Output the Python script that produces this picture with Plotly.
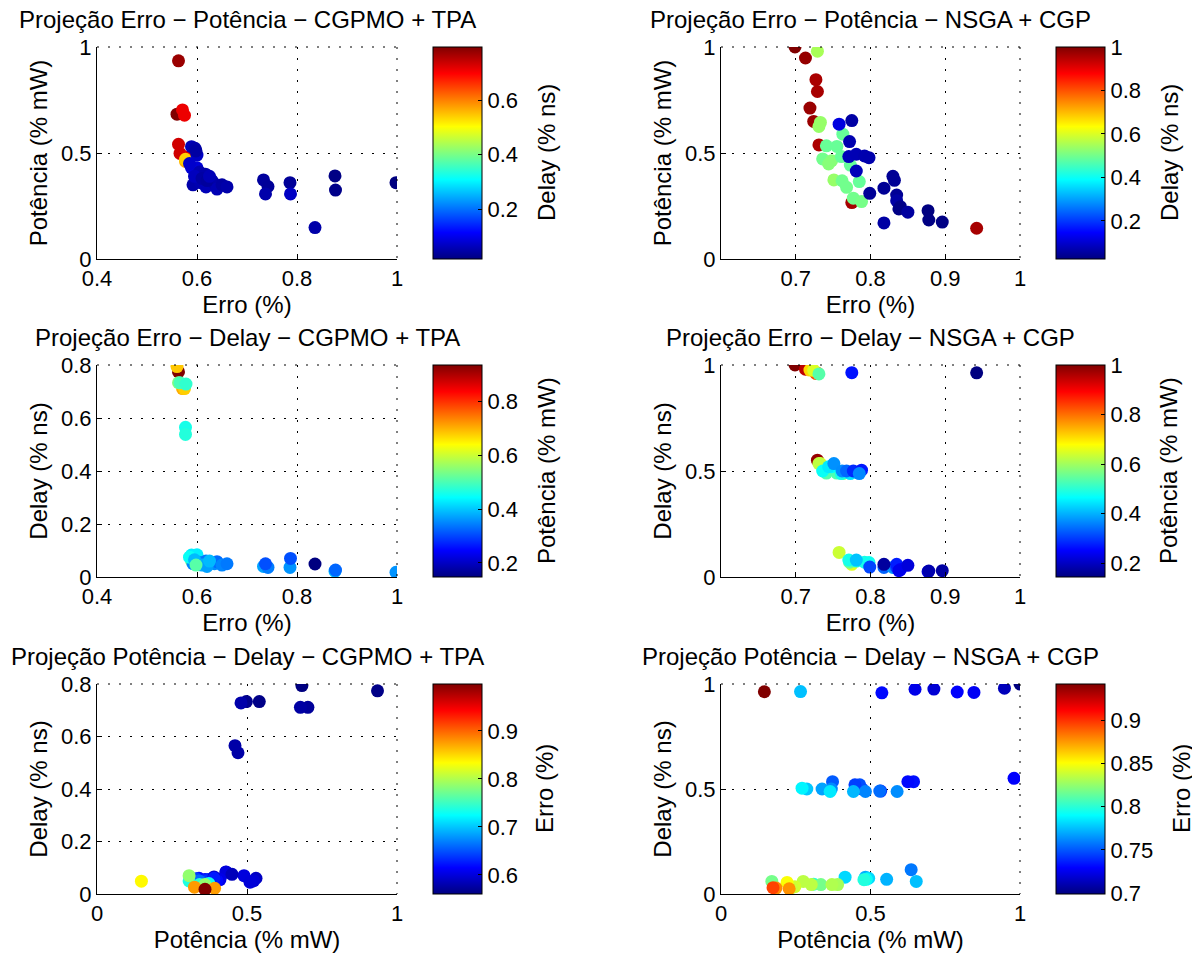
import plotly.graph_objects as go

# ---------------- Data: CGPMO + TPA (erro, potencia, delay) ----------------
cg_erro = [0.563, 0.560, 0.571, 0.575, 0.563, 0.566, 0.578, 0.577, 0.577,
           0.589, 0.596, 0.600, 0.589, 0.592, 0.600, 0.605, 0.607, 0.617, 0.618,
           0.630, 0.635, 0.640, 0.585, 0.595, 0.610, 0.620, 0.598, 0.625, 0.650,
           0.660, 0.733, 0.742, 0.737, 0.786, 0.787, 0.876, 0.877, 0.998, 0.836]
cg_pot = [0.935, 0.683, 0.703, 0.678, 0.541, 0.498, 0.480, 0.460, 0.470,
          0.530, 0.522, 0.490, 0.430, 0.350, 0.430, 0.410, 0.360, 0.400, 0.340,
          0.370, 0.355, 0.330, 0.450, 0.390, 0.380, 0.370, 0.510, 0.390, 0.350,
          0.340, 0.373, 0.342, 0.307, 0.360, 0.307, 0.392, 0.325, 0.360, 0.148]
cg_delay = [0.774, 0.794, 0.711, 0.711, 0.733, 0.733, 0.728, 0.565, 0.538,
            0.060, 0.050, 0.070, 0.083, 0.050, 0.084, 0.055, 0.055, 0.050, 0.060,
            0.055, 0.050, 0.058, 0.075, 0.065, 0.045, 0.040, 0.045, 0.060, 0.045,
            0.050, 0.040, 0.036, 0.050, 0.036, 0.070, 0.022, 0.026, 0.018, 0.049]

# ---------------- Data: NSGA + CGP (erro, potencia, delay) ----------------
ns_erro = [0.699, 0.713, 0.727, 0.729, 0.719, 0.724, 0.731, 0.775, 0.942,
           0.729, 0.733, 0.731, 0.741, 0.755, 0.763, 0.736, 0.748, 0.744, 0.761,
           0.773, 0.751, 0.762, 0.768, 0.777, 0.788, 0.785,
           0.758, 0.775, 0.772, 0.771, 0.781, 0.792, 0.798, 0.781, 0.799, 0.818,
           0.830, 0.832, 0.835, 0.835, 0.840, 0.838, 0.850, 0.818, 0.877, 0.878,
           0.896]
ns_pot = [1.000, 0.948, 0.846, 0.790, 0.712, 0.649, 0.538, 0.266, 0.145,
          0.980, 0.644, 0.625, 0.534, 0.531, 0.589, 0.472, 0.464, 0.448, 0.483,
          0.443, 0.373, 0.369, 0.338, 0.287, 0.271, 0.365,
          0.636, 0.653, 0.554, 0.483, 0.494, 0.486, 0.478, 0.415, 0.310, 0.334,
          0.390, 0.371, 0.302, 0.275, 0.247, 0.236, 0.221, 0.170, 0.228, 0.184,
          0.174]
ns_delay = [1.000, 0.980, 0.960, 0.962, 0.976, 0.975, 0.958, 0.964, 0.963,
            0.551, 0.535, 0.535, 0.490, 0.490, 0.488, 0.500, 0.520, 0.520, 0.488,
            0.488, 0.535, 0.500, 0.500, 0.500, 0.504, 0.488,
            0.116, 0.060, 0.070, 0.080, 0.075, 0.070, 0.068, 0.080, 0.047, 0.045,
            0.045, 0.045, 0.045, 0.060, 0.035, 0.030, 0.055, 0.060, 0.025, 0.028,
            0.030]

# Labels
lbl_erro = "Erro (%)"
lbl_pot = "Potência (% mW)"
lbl_delay = "Delay (% ns)"

titles = [
    "Projeção Erro − Potência − CGPMO + TPA",
    "Projeção Erro − Potência − NSGA + CGP",
    "Projeção Erro − Delay − CGPMO + TPA",
    "Projeção Erro − Delay − NSGA + CGP",
    "Projeção Potência − Delay − CGPMO + TPA",
    "Projeção Potência − Delay − NSGA + CGP",
]

# tick values
tk_x_top_left = [0.4, 0.6, 0.8, 1.0]
tk_x_ns = [0.7, 0.8, 0.9, 1.0]
tk_y_half = [0, 0.5, 1.0]
tk_y_cg_delay = [0, 0.2, 0.4, 0.6, 0.8]
tk_x_pot = [0, 0.5, 1.0]
cb_cg_delay = [0.2, 0.4, 0.6]
cb_ns_delay = [0.2, 0.4, 0.6, 0.8, 1.0]
cb_cg_pot = [0.2, 0.4, 0.6, 0.8]
cb_ns_pot = [0.2, 0.4, 0.6, 0.8, 1.0]
cb_cg_erro = [0.6, 0.7, 0.8, 0.9, 1.0]
cb_ns_erro = [0.7, 0.75, 0.8, 0.85, 0.9]

jet = [[0.0, "rgb(0,0,128)"], [0.125, "rgb(0,0,255)"], [0.375, "rgb(0,255,255)"],
       [0.625, "rgb(255,255,0)"], [0.875, "rgb(255,0,0)"], [1.0, "rgb(128,0,0)"]]

FONT = "Liberation Sans, Arial, Helvetica, sans-serif"
OFF = 8  # page body margin in the browser
W, H = 1200 - OFF, 960 - OFF
DOT = "2px,9px"

# panel geometry in page pixels (converted to figure pixels with OFF)
cols_px = [(97, 397), (721, 1020)]
rows_px = [(47, 259), (365, 577), (684, 894)]
cbar_x_px = [433, 1056]
title_y_px = [20, 337, 656]
cbar_title_x_px = [[546, 1169], [546, 1168], [544, 1181]]


def fmt(v):
    return "%g" % v


def px_x(p):
    return (p - OFF) / W


def px_y(p):
    return 1 - (p - OFF) / H


panels = [
    dict(x=cg_erro, y=cg_pot, c=cg_delay, xl=lbl_erro, yl=lbl_pot, cl=lbl_delay,
         xr=[0.4, 1.0], xt=tk_x_top_left, yr=[0, 1], yt=tk_y_half, ct=cb_cg_delay),
    dict(x=ns_erro, y=ns_pot, c=ns_delay, xl=lbl_erro, yl=lbl_pot, cl=lbl_delay,
         xr=[0.6, 1.0], xt=tk_x_ns, yr=[0, 1], yt=tk_y_half, ct=cb_ns_delay),
    dict(x=cg_erro, y=cg_delay, c=cg_pot, xl=lbl_erro, yl=lbl_delay, cl=lbl_pot,
         xr=[0.4, 1.0], xt=tk_x_top_left, yr=[0, 0.8], yt=tk_y_cg_delay, ct=cb_cg_pot),
    dict(x=ns_erro, y=ns_delay, c=ns_pot, xl=lbl_erro, yl=lbl_delay, cl=lbl_pot,
         xr=[0.6, 1.0], xt=tk_x_ns, yr=[0, 1], yt=tk_y_half, ct=cb_ns_pot),
    dict(x=cg_pot, y=cg_delay, c=cg_erro, xl=lbl_pot, yl=lbl_delay, cl=lbl_erro,
         xr=[0, 1.0], xt=tk_x_pot, yr=[0, 0.8], yt=tk_y_cg_delay, ct=cb_cg_erro),
    dict(x=ns_pot, y=ns_delay, c=ns_erro, xl=lbl_pot, yl=lbl_delay, cl=lbl_erro,
         xr=[0, 1.0], xt=tk_x_pot, yr=[0, 1], yt=tk_y_half, ct=cb_ns_erro),
]

fig = go.Figure()
layout = dict(width=W, height=H, margin=dict(l=0, r=0, t=0, b=0),
              paper_bgcolor="white", plot_bgcolor="white", showlegend=False,
              font=dict(family=FONT, size=22, color="black"))
annotations = []
shapes = []

for i, p in enumerate(panels):
    r, c = divmod(i, 2)
    x0, x1 = cols_px[c]
    y0, y1 = rows_px[r]
    xd = [px_x(x0), px_x(x1)]
    yd = [px_y(y1), px_y(y0)]
    n = i + 1
    xa = "x" if n == 1 else "x%d" % n
    ya = "y" if n == 1 else "y%d" % n
    cmin = min(p["c"])
    cmax = max(p["c"])
    fig.add_trace(go.Scatter(
        x=p["x"], y=p["y"], mode="markers", xaxis=xa, yaxis=ya,
        marker=dict(size=13, color=p["c"], colorscale=jet, cmin=cmin, cmax=cmax,
                    line=dict(width=0),
                    colorbar=dict(
                        x=px_x(cbar_x_px[c]), xanchor="left", xpad=0, ypad=0,
                        y=px_y((y0 + y1) / 2), yanchor="middle",
                        len=(y1 - y0) / H, lenmode="fraction",
                        thickness=49, thicknessmode="pixels",
                        outlinecolor="black", outlinewidth=1,
                        ticks="inside", ticklen=4, tickcolor="black",
                        tickvals=p["ct"], ticktext=[fmt(v) for v in p["ct"]],
                        tickfont=dict(family=FONT, size=22, color="black"),
                    )),
        hoverinfo="skip"))
    axis_common = dict(showline=True, linecolor="black", linewidth=1, mirror=False,
                       ticks="inside", ticklen=5, tickcolor="black",
                       showgrid=True, gridcolor="black", gridwidth=1,
                       griddash=DOT, zeroline=False, automargin=False,
                       tickfont=dict(family=FONT, size=22, color="black"))
    layout["xaxis" if n == 1 else "xaxis%d" % n] = dict(
        axis_common, domain=xd, range=p["xr"], anchor=ya,
        tickvals=p["xt"], ticktext=[fmt(v) for v in p["xt"]],
        title=dict(text=p["xl"], standoff=3, font=dict(family=FONT, size=24, color="black")))
    layout["yaxis" if n == 1 else "yaxis%d" % n] = dict(
        axis_common, domain=yd, range=p["yr"], anchor=xa,
        tickvals=p["yt"], ticktext=[fmt(v) for v in p["yt"]],
        title=dict(text=p["yl"], standoff=6, font=dict(family=FONT, size=24, color="black")))
    # dotted grid lines along the top and right edges (MATLAB box-off look)
    shapes.append(dict(type="line", xref="%s domain" % xa, yref="%s domain" % ya,
                       x0=0, x1=1, y0=1, y1=1, line=dict(color="black", width=1, dash=DOT)))
    shapes.append(dict(type="line", xref="%s domain" % xa, yref="%s domain" % ya,
                       x0=1, x1=1, y0=1, y1=0, line=dict(color="black", width=1, dash=DOT)))
    annotations.append(dict(
        text=titles[i], x=px_x((x0 + x1) / 2), y=px_y(title_y_px[r]),
        xref="paper", yref="paper", xanchor="center", yanchor="middle",
        showarrow=False, borderpad=0, font=dict(family=FONT, size=24, color="black")))
    annotations.append(dict(
        text=p["cl"], x=px_x(cbar_title_x_px[r][c]), y=px_y((y0 + y1) / 2),
        xref="paper", yref="paper", xanchor="center", yanchor="middle",
        textangle=-90, showarrow=False, borderpad=0,
        font=dict(family=FONT, size=24, color="black")))

layout["annotations"] = annotations
layout["shapes"] = shapes
fig.update_layout(**layout)
fig.write_html("out.html")
